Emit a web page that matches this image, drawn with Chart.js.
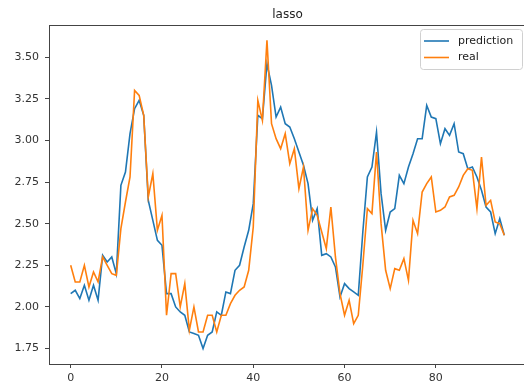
<!DOCTYPE html>
<html>
<head>
<meta charset="utf-8">
<script src="https://cdn.jsdelivr.net/npm/chart.js@4/dist/chart.umd.min.js"></script>
<style>
  html, body { margin: 0; padding: 0; background: #fff; overflow: hidden; }
  canvas { display: block; }
</style>
</head>
<body>
<canvas id="grafico" width="530" height="388"></canvas>
<script>
// valores (índice 0..95)
const prediction = [
  2.08, 2.10, 2.05, 2.13, 2.04, 2.13, 2.04, 2.31, 2.27, 2.30,
  2.20, 2.73, 2.81, 3.04, 3.19, 3.24, 3.15, 2.64, 2.52, 2.40,
  2.37, 2.08, 2.08, 2.00, 1.97, 1.95, 1.85, 1.84, 1.83, 1.75,
  1.83, 1.85, 1.97, 1.95, 2.09, 2.08, 2.22, 2.25, 2.36, 2.46,
  2.62, 3.15, 3.13, 3.46, 3.33, 3.14, 3.20, 3.10, 3.08, 3.01,
  2.93, 2.85, 2.74, 2.52, 2.59, 2.31, 2.32, 2.30, 2.24, 2.06,
  2.14, 2.11, 2.09, 2.07, 2.45, 2.78, 2.84, 3.05, 2.68, 2.46,
  2.57, 2.59, 2.79, 2.74, 2.84, 2.92, 3.01, 3.01, 3.21, 3.14,
  3.13, 2.98, 3.07, 3.03, 3.10, 2.93, 2.92, 2.83, 2.84, 2.78,
  2.70, 2.60, 2.57, 2.44, 2.53, 2.43
];
const real = [
  2.25, 2.15, 2.15, 2.25, 2.12, 2.21, 2.15, 2.30, 2.25, 2.20,
  2.19, 2.47, 2.63, 2.78, 3.30, 3.27, 3.15, 2.66, 2.80, 2.46,
  2.55, 1.95, 2.20, 2.20, 2.00, 2.14, 1.86, 2.00, 1.85, 1.85,
  1.95, 1.95, 1.85, 1.95, 1.95, 2.02, 2.07, 2.10, 2.12, 2.22,
  2.48, 3.24, 3.12, 3.60, 3.10, 3.01, 2.95, 3.04, 2.86, 2.95,
  2.71, 2.84, 2.46, 2.59, 2.55, 2.45, 2.35, 2.60, 2.30, 2.08,
  1.95, 2.04, 1.90, 1.95, 2.25, 2.59, 2.56, 2.93, 2.50, 2.22,
  2.11, 2.23, 2.22, 2.29, 2.16, 2.52, 2.44, 2.69, 2.74, 2.78,
  2.57, 2.58, 2.60, 2.66, 2.67, 2.72, 2.79, 2.83, 2.82, 2.59,
  2.90, 2.61, 2.64, 2.51, 2.50, 2.43
];
const xTicks = [0, 20, 40, 60, 80];
const yTicks = [1.75, 2.00, 2.25, 2.50, 2.75, 3.00, 3.25, 3.50];
const titulo = 'lasso';
const nomes = ['prediction', 'real'];
const cores = ['#1f77b4', '#ff7f0e'];

const fonte = "'DejaVu Sans', sans-serif";

// moldura, título e legenda no estilo matplotlib
const extras = {
  id: 'extras',
  afterDraw(chart) {
    const ctx = chart.ctx;
    const a = chart.chartArea;
    ctx.save();
    ctx.strokeStyle = '#444';
    ctx.lineWidth = 1;
    ctx.strokeRect(a.left + 0.5, a.top + 0.5, a.right - a.left, a.bottom - a.top);

    ctx.fillStyle = '#222';
    ctx.font = '12px ' + fonte;
    ctx.textAlign = 'center';
    ctx.textBaseline = 'alphabetic';
    ctx.fillText(titulo, (a.left + a.right) / 2, 18);

    // caixa da legenda
    const bx = 420, by = 29, bw = 102, bh = 40;
    ctx.fillStyle = 'rgba(255,255,255,0.85)';
    ctx.strokeStyle = '#d0d0d0';
    ctx.beginPath();
    ctx.roundRect(bx + 0.5, by + 0.5, bw, bh, 3);
    ctx.fill();
    ctx.stroke();
    ctx.font = '11px ' + fonte;
    ctx.textAlign = 'left';
    ctx.textBaseline = 'middle';
    nomes.forEach((n, k) => {
      const y = 41 + k * 16.5;
      ctx.strokeStyle = cores[k];
      ctx.lineWidth = 1.6;
      ctx.beginPath();
      ctx.moveTo(424, y);
      ctx.lineTo(449, y);
      ctx.stroke();
      ctx.fillStyle = '#222';
      ctx.fillText(n, 458, y);
    });
    ctx.restore();
  }
};

new Chart(document.getElementById('grafico').getContext('2d'), {
  type: 'line',
  data: {
    datasets: [
      {
        label: nomes[0],
        data: prediction.map((v, i) => ({ x: i, y: v })),
        borderColor: cores[0],
        borderWidth: 1.6,
        pointRadius: 0,
        tension: 0,
        order: 1
      },
      {
        label: nomes[1],
        data: real.map((v, i) => ({ x: i, y: v })),
        borderColor: cores[1],
        borderWidth: 1.6,
        pointRadius: 0,
        tension: 0,
        order: 0
      }
    ]
  },
  options: {
    responsive: false,
    animation: false,
    layout: { padding: { top: 25, right: 4, left: 0, bottom: 0 } },
    plugins: {
      legend: { display: false },
      tooltip: { enabled: false },
      title: { display: false }
    },
    scales: {
      x: {
        type: 'linear',
        min: -4.75,
        max: 99.75,
        afterBuildTicks: s => { s.ticks = xTicks.map(v => ({ value: v })); },
        afterFit: s => { s.height = 24; },
        grid: { drawOnChartArea: false, drawTicks: true, tickLength: 4, tickColor: '#444' },
        border: { display: false },
        ticks: {
          color: '#333',
          font: { family: fonte, size: 11 },
          padding: 4,
          maxRotation: 0,
          autoSkip: false,
          callback: v => String(v)
        }
      },
      y: {
        type: 'linear',
        min: 1.6575,
        max: 3.6925,
        afterBuildTicks: s => { s.ticks = yTicks.map(v => ({ value: v })); },
        afterFit: s => { s.width = 49; },
        grid: { drawOnChartArea: false, drawTicks: true, tickLength: 4, tickColor: '#444' },
        border: { display: false },
        ticks: {
          color: '#333',
          font: { family: fonte, size: 11 },
          padding: 6,
          autoSkip: false,
          callback: v => v.toFixed(2)
        }
      }
    }
  },
  plugins: [extras]
});
</script>
</body>
</html>
